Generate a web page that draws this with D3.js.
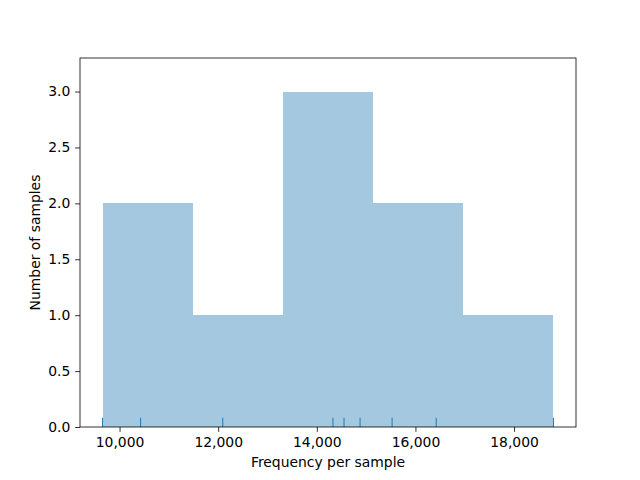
<!DOCTYPE html>
<html><head><meta charset="utf-8">
<script src="https://cdn.jsdelivr.net/npm/d3@7"></script>
<style>body{margin:0;background:#fff}svg{display:block}text{font-family:"DejaVu Sans",sans-serif}</style>
</head><body>
<script>
const samples = [9655, 10427, 12093, 14328, 14552, 14877, 15527, 16421, 18799];
const xTicks = [10000, 12000, 14000, 16000, 18000];
const yTicks = [0, 0.5, 1.0, 1.5, 2.0, 2.5, 3.0];
const binCount = 5;

const W = 640, H = 480;
const m = {left: 80, right: 64, top: 58, bottom: 53};
const svg = d3.select("body").append("svg").attr("width", W).attr("height", H);

const lo = d3.min(samples), hi = d3.max(samples);
const span = hi - lo;
const x = d3.scaleLinear().domain([lo - span * 0.05, hi + span * 0.05]).range([m.left, W - m.right]);
const y = d3.scaleLinear().domain([0, 3.3]).range([H - m.bottom, m.top]);

const step = span / binCount;
const thresholds = d3.range(1, binCount).map(i => lo + i * step);
const bins = d3.bin().domain([lo, hi]).thresholds(thresholds)(samples);

svg.append("g").attr("shape-rendering", "crispEdges").selectAll("rect").data(bins).join("rect")
  .attr("x", d => x(d.x0)).attr("width", d => x(d.x1) - x(d.x0))
  .attr("y", d => y(d.length)).attr("height", d => y(0) - y(d.length))
  .attr("fill", "#a5c8e1");

const rugH = (y(0) - y(3.3)) * 0.025;
svg.append("g").selectAll("line").data(samples).join("line")
  .attr("x1", d => x(d)).attr("x2", d => x(d))
  .attr("y1", y(0)).attr("y2", y(0) - rugH)
  .attr("stroke", "#1f77b4").attr("stroke-width", 1);

const fmt = d3.format(",");
const xa = svg.append("g").attr("transform", `translate(0,${H - m.bottom})`)
  .call(d3.axisBottom(x).tickValues(xTicks).tickFormat(fmt).tickSize(4.86).tickPadding(4.9));
const ya = svg.append("g").attr("transform", `translate(${m.left},0)`)
  .call(d3.axisLeft(y).tickValues(yTicks).tickFormat(d3.format(".1f")).tickSize(4.86).tickPadding(4.9));
[xa, ya].forEach(a => {
  a.select(".domain").remove();
  a.selectAll("text").attr("font-size", "13.9px").attr("fill", "#000").attr("font-family", "DejaVu Sans");
  a.selectAll("line").attr("stroke", "#000").attr("stroke-width", 0.8);
});

svg.append("rect").attr("x", m.left).attr("y", m.top)
  .attr("width", W - m.left - m.right).attr("height", H - m.top - m.bottom)
  .attr("fill", "none").attr("stroke", "#000").attr("stroke-width", 0.8);

svg.append("text").attr("x", (m.left + W - m.right) / 2).attr("y", 467)
  .attr("text-anchor", "middle").attr("font-size", "13.9px").text("Frequency per sample");
svg.append("text").attr("transform", `translate(40,${(m.top + H - m.bottom) / 2}) rotate(-90)`)
  .attr("text-anchor", "middle").attr("font-size", "13.9px").text("Number of samples");
</script>
</body></html>
